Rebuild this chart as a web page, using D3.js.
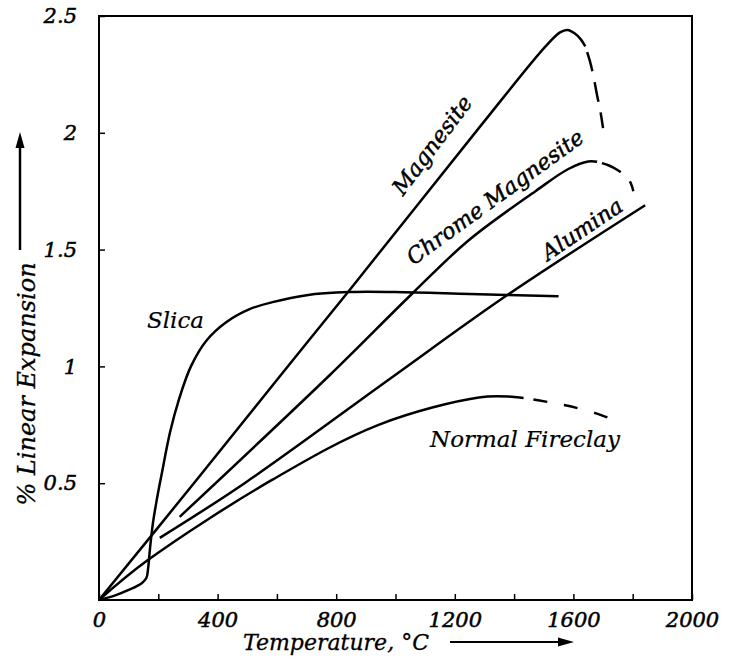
<!DOCTYPE html>
<html>
<head>
<meta charset="utf-8">
<script src="https://cdn.jsdelivr.net/npm/d3@7"></script>
<style>
  body { margin: 0; background: #fff; }
  text { font-family: "DejaVu Serif", serif; font-style: italic; fill: #000; }
</style>
</head>
<body>
<div id="chart"></div>
<script>
// readings taken off the figure (temperature in °C, % linear expansion)
const silicaT = [0, 55, 100, 145, 160, 166, 172, 182, 195, 210, 240, 270, 310, 362, 430, 508, 585, 700, 844, 1000, 1250, 1550];
const silicaV = [0, 0.02, 0.043, 0.073, 0.095, 0.14, 0.22, 0.33, 0.43, 0.53, 0.72, 0.86, 1.0, 1.11, 1.19, 1.245, 1.275, 1.305, 1.318, 1.318, 1.31, 1.3];

const magnesiteT = [0, 333, 608, 844, 1281, 1506, 1555, 1580, 1605, 1625, 1640];
const magnesiteV = [0, 0.52, 0.955, 1.325, 2.02, 2.37, 2.43, 2.44, 2.425, 2.4, 2.37];
const magnesiteDashT = [1640, 1655, 1668, 1680, 1690, 1700];
const magnesiteDashV = [2.37, 2.31, 2.24, 2.16, 2.1, 2.02];

const chromeT = [272, 776, 1055, 1247, 1472, 1583, 1650, 1680];
const chromeV = [0.356, 0.96, 1.31, 1.54, 1.75, 1.845, 1.877, 1.876];
const chromeDashT = [1680, 1720, 1750, 1780, 1795, 1802];
const chromeDashV = [1.876, 1.86, 1.84, 1.81, 1.78, 1.75];

const aluminaT = [205, 491, 978, 1371, 1842];
const aluminaV = [0.266, 0.5, 0.944, 1.3, 1.69];

const fireclayT = [0, 166, 585, 945, 1281, 1392, 1432];
const fireclayV = [0, 0.172, 0.515, 0.751, 0.867, 0.87, 0.865];
const fireclayDashT = [1432, 1526, 1593, 1674, 1730];
const fireclayDashV = [0.865, 0.845, 0.828, 0.8, 0.774];

const xTicks = [0, 200, 400, 600, 800, 1000, 1200, 1400, 1600, 1800, 2000];
const xLabels = [0, 400, 800, 1200, 1600, 2000];
const yTicks = [0.5, 1, 1.5, 2, 2.5];

const W = 729, H = 660;

const svg = d3.select("#chart").append("svg")
    .attr("width", W)
    .attr("height", H);

const x = d3.scaleLinear().domain([0, 2000]).range([99, 692]);
const y = d3.scaleLinear().domain([0, 2.5]).range([600, 16]);

// frame
svg.append("rect")
    .attr("x", x(0)).attr("y", y(2.5))
    .attr("width", x(2000) - x(0)).attr("height", y(0) - y(2.5))
    .attr("fill", "none").attr("stroke", "#000").attr("stroke-width", 2);

// axes, ticks pointing in
const xAxis = svg.append("g")
    .attr("transform", `translate(0,${y(0)})`)
    .call(d3.axisBottom(x).tickValues(xTicks)
        .tickSizeInner(-6).tickSizeOuter(0).tickPadding(12)
        .tickFormat(d => xLabels.includes(d) ? d : ""));
xAxis.select(".domain").remove();

const yAxis = svg.append("g")
    .attr("transform", `translate(${x(0)},0)`)
    .call(d3.axisLeft(y).tickValues(yTicks)
        .tickSizeInner(-6).tickSizeOuter(0).tickPadding(22)
        .tickFormat(d => d));
yAxis.select(".domain").remove();

svg.selectAll(".tick line").attr("stroke", "#000").attr("stroke-width", 1.5);
svg.selectAll(".tick text")
    .style("font-family", "'DejaVu Serif', serif")
    .style("font-style", "italic")
    .style("font-size", "21px")
    .attr("stroke", "#000").attr("stroke-width", 0.5);

// curves
const line = d3.line()
    .x(d => x(d[0]))
    .y(d => y(d[1]))
    .curve(d3.curveCatmullRom.alpha(0.5));

const series = [
    { t: silicaT, v: silicaV, dash: null, off: 0 },
    { t: magnesiteT, v: magnesiteV, dash: null, off: 0 },
    { t: magnesiteDashT, v: magnesiteDashV, dash: "20,11", off: -6 },
    { t: chromeT, v: chromeV, dash: null, off: 0 },
    { t: chromeDashT, v: chromeDashV, dash: "21,13", off: -5 },
    { t: aluminaT, v: aluminaV, dash: null, off: 0 },
    { t: fireclayT, v: fireclayV, dash: null, off: 0 },
    { t: fireclayDashT, v: fireclayDashV, dash: "14,17", off: 21 }
];

svg.selectAll("path.curve")
    .data(series)
    .enter().append("path")
    .attr("class", "curve")
    .attr("d", s => line(s.t.map((t, i) => [t, s.v[i]])))
    .attr("fill", "none")
    .attr("stroke", "#000")
    .attr("stroke-width", 2.5)
    .attr("stroke-dasharray", s => s.dash)
    .attr("stroke-dashoffset", s => s.off);

// curve labels
const labels = [
    { text: "Slica", x: 147, y: 328, rot: 0, anchor: "start", size: 23 },
    { text: "Normal Fireclay", x: 430, y: 447, rot: 0, anchor: "start", size: 23 },
    { text: "Magnesite", x: 432, y: 145, rot: -53, anchor: "middle", size: 22 },
    { text: "Chrome Magnesite", x: 495, y: 197, rot: -36, anchor: "middle", size: 22 },
    { text: "Alumina", x: 582, y: 229, rot: -34, anchor: "middle", size: 22 }
];

svg.selectAll("text.lbl")
    .data(labels)
    .enter().append("text")
    .attr("class", "lbl")
    .attr("transform", d => `translate(${d.x},${d.y}) rotate(${d.rot})`)
    .attr("dy", d => d.rot ? "0.35em" : 0)
    .attr("text-anchor", d => d.anchor)
    .attr("stroke", "#000").attr("stroke-width", d => d.rot ? 0.5 : 0.2)
    .style("font-size", d => d.size + "px")
    .text(d => d.text);

// axis titles with arrows
svg.append("text")
    .attr("x", 336).attr("y", 650)
    .attr("text-anchor", "middle")
    .attr("stroke", "#000").attr("stroke-width", 0.3)
    .style("font-size", "22px")
    .text("Temperature, °C");
svg.append("line")
    .attr("x1", 450).attr("x2", 560).attr("y1", 642).attr("y2", 642)
    .attr("stroke", "#000").attr("stroke-width", 2);
svg.append("path")
    .attr("d", "M558,637.5 L574,642 L558,646.5 Z")
    .attr("fill", "#000");

svg.append("text")
    .attr("transform", "translate(35,384) rotate(-90)")
    .attr("text-anchor", "middle")
    .attr("stroke", "#000").attr("stroke-width", 0.3)
    .style("font-size", "24px")
    .text("% Linear  Expansion");
svg.append("line")
    .attr("x1", 20).attr("x2", 20).attr("y1", 250).attr("y2", 145)
    .attr("stroke", "#000").attr("stroke-width", 2.5);
svg.append("path")
    .attr("d", "M15.5,148 L20,132 L24.5,148 Z")
    .attr("fill", "#000");
</script>
</body>
</html>
